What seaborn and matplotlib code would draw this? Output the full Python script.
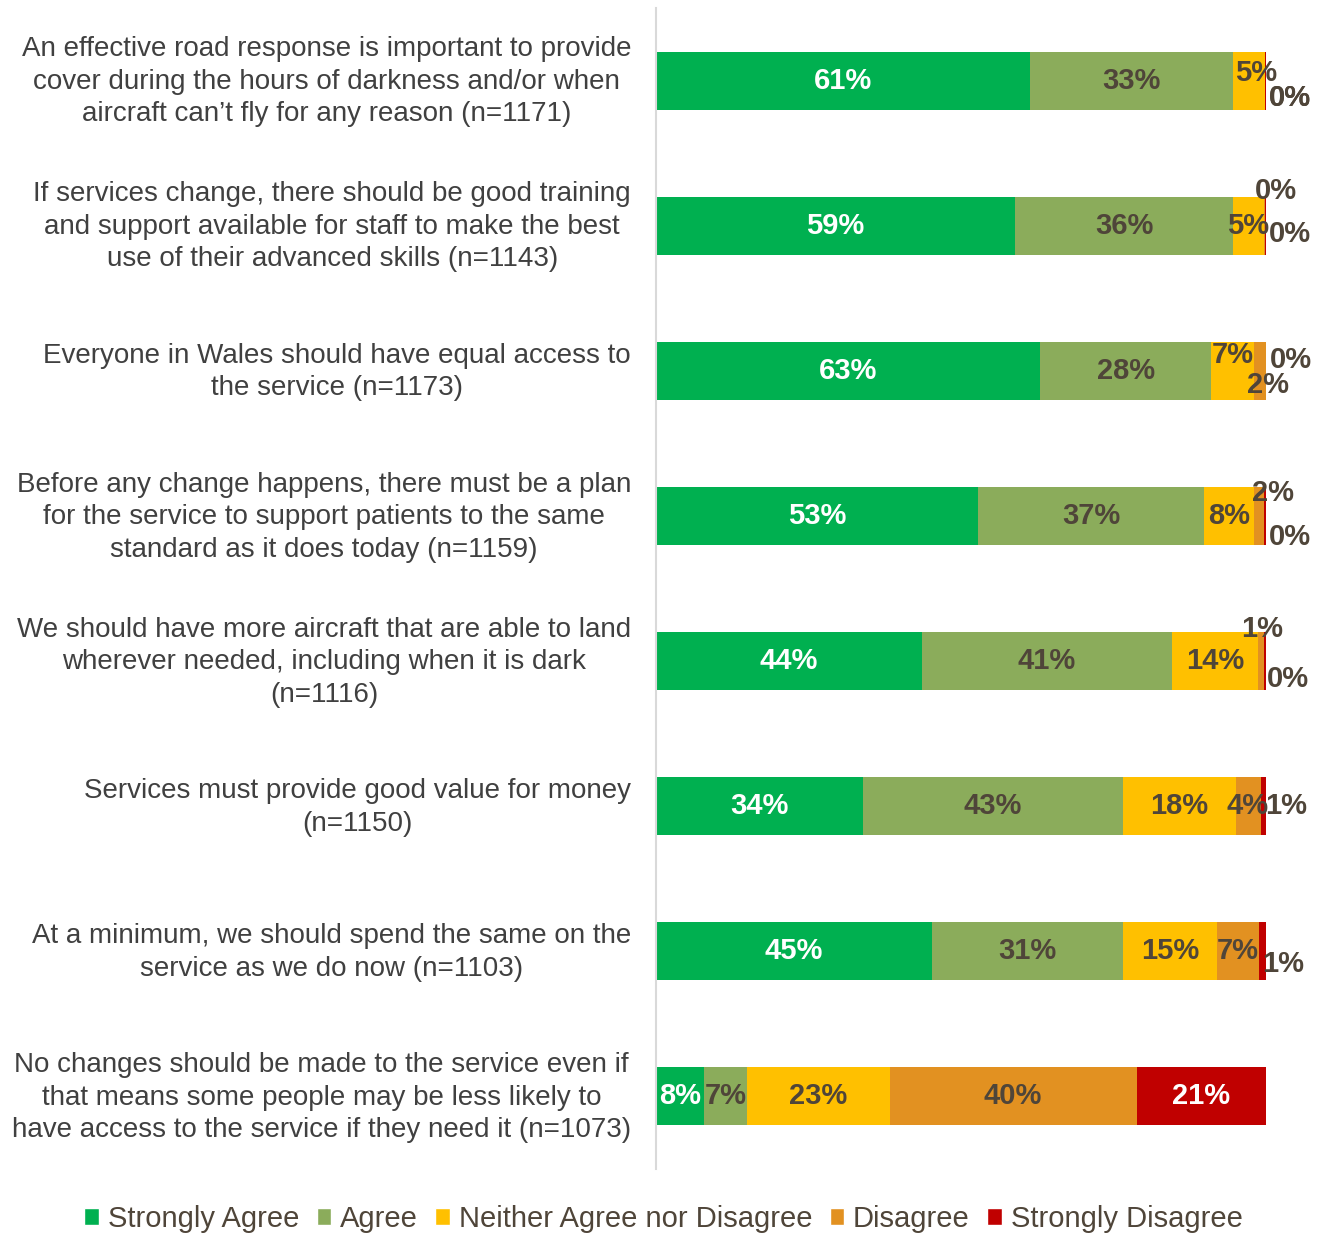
import numpy as np
import pandas as pd
import seaborn as sns
import matplotlib.pyplot as plt
import matplotlib.transforms as mtransforms
from matplotlib.patches import Patch

# Data (percent of respondents)
statements = [
    "An effective road response is important to provide\ncover during the hours of darkness and/or when\naircraft can\u2019t fly for any reason (n=1171)",
    "If services change, there should be good training\nand support available for staff to make the best\nuse of their advanced skills (n=1143)",
    "Everyone in Wales should have equal access to\nthe service (n=1173)",
    "Before any change happens, there must be a plan\nfor the service to support patients to the same\nstandard as it does today (n=1159)",
    "We should have more aircraft that are able to land\nwherever needed, including when it is dark\n(n=1116)",
    "Services must provide good value for money\n(n=1150)",
    "At a minimum, we should spend the same on the\nservice as we do now (n=1103)",
    "No changes should be made to the service even if\nthat means some people may be less likely to\nhave access to the service if they need it (n=1073)",
]
responses = ["Strongly Agree", "Agree", "Neither Agree nor Disagree",
             "Disagree", "Strongly Disagree"]
strongly_agree = [61.3, 58.9, 63.0, 52.8, 43.6, 33.9, 45.2, 7.9]
agree = [33.3, 35.7, 28.0, 37.0, 41.0, 42.6, 31.4, 7.0]
neutral = [5.2, 5.1, 7.0, 8.2, 14.1, 18.5, 15.3, 23.4]
disagree = [0.1, 0.1, 2.0, 1.6, 1.0, 4.1, 7.0, 40.5]
strongly_disagree = [0.1, 0.2, 0.0, 0.4, 0.3, 0.9, 1.1, 21.2]
colors = ["#00B050", "#8BAC5B", "#FFC000", "#E29121", "#C00000"]

# Settings
sns.set_style("white")
plt.rcParams['font.family'] = ['Liberation Sans', 'DejaVu Sans']
dark = "#4F4539"

df = pd.DataFrame({"statement": statements,
                   responses[0]: strongly_agree,
                   responses[1]: agree,
                   responses[2]: neutral,
                   responses[3]: disagree,
                   responses[4]: strongly_disagree})
vals = df[responses].to_numpy()
cum = vals.cumsum(axis=1)

fig = plt.figure(figsize=(13.27, 12.35), dpi=100)
ax = fig.add_axes([656 / 1327, 1 - 1169 / 1235, 610 / 1327, 1161 / 1235])

# stacked bars: draw cumulative totals from the longest down
for j in range(len(responses) - 1, -1, -1):
    plot_df = pd.DataFrame({"statement": statements, "value": cum[:, j]})
    sns.barplot(data=plot_df, x="value", y="statement", color=colors[j],
                saturation=1, width=0.4, linewidth=0, ax=ax)

# label positions for the thin segments (x in %, y offset in rows)
label_pos = {
    (0, 2): (98.4, -0.055), (0, 3): (103.9, 0.12), (0, 4): (103.9, 0.12),
    (1, 2): (97.0, 0.0), (1, 3): (101.6, -0.24), (1, 4): (103.9, 0.06),
    (2, 2): (94.6, -0.11), (2, 3): (100.3, 0.1), (2, 4): (104.1, -0.075),
    (3, 3): (101.1, -0.16), (3, 4): (103.9, 0.145),
    (4, 3): (99.3, -0.22), (4, 4): (103.6, 0.124),
    (5, 3): (97.0, 0.0), (5, 4): (103.3, 0.0),
    (6, 4): (102.8, 0.09),
}
for i in range(len(statements)):
    for j in range(len(responses)):
        v = vals[i, j]
        if (i, j) in label_pos:
            x, dy = label_pos[(i, j)]
            c = "white" if j == 0 else dark
        else:
            x, dy = cum[i, j] - v / 2, 0.0
            c = "white" if j in (0, 4) else dark
        ax.text(x, i + dy, f"{round(v):.0f}%", ha="center", va="center",
                fontsize=21, fontweight="bold", color=c, clip_on=False)

ax.set_xlim(0, 100)
ax.set_ylim(7.5, -0.5)
ax.set_xlabel("")
ax.set_ylabel("")
ax.set_xticks([])
ax.tick_params(axis="y", length=0, pad=18)
ax.set_yticks(range(len(statements)))
ax.set_yticklabels(statements, fontsize=20, color="#404040",
                   multialignment="center", linespacing=1.32)
shift = mtransforms.ScaledTranslation(0, 5 / 100, fig.dpi_scale_trans)
for lab in ax.get_yticklabels():
    lab.set_transform(lab.get_transform() + shift)
for s in ["top", "right", "bottom"]:
    ax.spines[s].set_visible(False)
ax.spines["left"].set_color("#D9D9D9")
ax.spines["left"].set_linewidth(1.5)

handles = [Patch(facecolor=colors[j], label=responses[j]) for j in range(5)]
fig.legend(handles=handles, loc="center", bbox_to_anchor=(0.5, 1 - 1219 / 1235),
           ncol=5, frameon=False, fontsize=21, handlelength=0.5,
           handleheight=0.5, handletextpad=0.3, columnspacing=0.6,
           labelcolor=dark)

fig.savefig("out.png", dpi=100)
